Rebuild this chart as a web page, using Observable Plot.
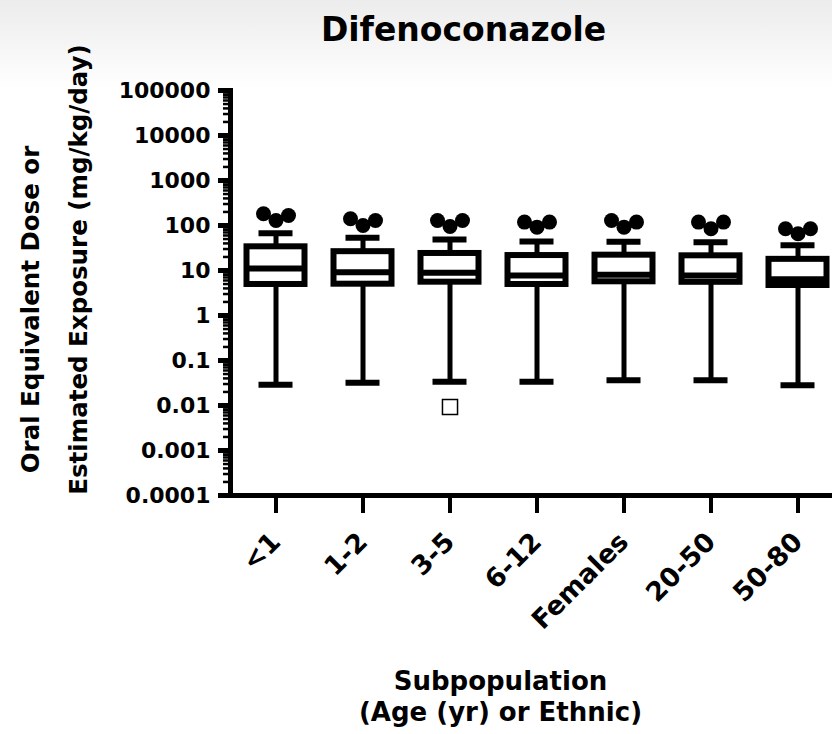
<!DOCTYPE html>
<html>
<head>
<meta charset="utf-8">
<script src="https://cdn.jsdelivr.net/npm/d3@7"></script>
<script src="https://cdn.jsdelivr.net/npm/@observablehq/plot@0.6"></script>
<style>
  html, body { margin: 0; padding: 0; }
  body { width: 832px; height: 734px; background: linear-gradient(to bottom, #ececec 0px, #ffffff 90px) no-repeat, #ffffff; }
  #chart svg { display: block; }
</style>
</head>
<body>
<div id="chart"></div>
<script>
// ---- data ----
const titleText = "Difenoconazole";
const yTitleLine1 = "Oral Equivalent Dose or";
const yTitleLine2 = "Estimated Exposure (mg/kg/day)";
const xTitleLine1 = "Subpopulation";
const xTitleLine2 = "(Age (yr) or Ethnic)";

const categories   = ["<1", "1-2", "3-5", "6-12", "Females", "20-50", "50-80"];
const whiskerLow   = [0.0288, 0.0319, 0.0337, 0.0337, 0.0365, 0.0365, 0.0282];
const q1           = [4.89, 4.96, 5.5, 4.89, 5.61, 5.47, 4.64];
const median       = [11.1, 9.12, 8.89, 7.74, 8.02, 7.74, 6.41];
const q3           = [33.6, 26.2, 23.9, 21.5, 21.9, 21.2, 17.7];
const whiskerHigh  = [67.4, 53.6, 48.9, 44.1, 43.6, 42.4, 36.5];
const outlierLeft  = [182, 141, 129, 119, 129, 119, 84.5];
const outlierMid   = [129, 100, 95, 91.8, 91.8, 84.5, 65.4];
const outlierRight = [167, 129, 129, 119, 119, 119, 84.5];

const extraCategories = ["3-5"];
const extraValues     = [0.0093];

const yTickValues = [0.0001, 0.001, 0.01, 0.1, 1, 10, 100, 1000, 10000, 100000];
const yTickLabels = ["0.0001", "0.001", "0.01", "0.1", "1", "10", "100", "1000", "10000", "100000"];

// ---- tables built from the arrays ----
const rows = categories.map((c, i) => ({
  cat: c, lo: whiskerLow[i], q1: q1[i], med: median[i], q3: q3[i], hi: whiskerHigh[i],
  oL: outlierLeft[i], oM: outlierMid[i], oR: outlierRight[i]
}));
const extras = extraCategories.map((c, i) => ({cat: c, v: extraValues[i]}));
const minorTicks = [];
for (let k = 0; k < yTickValues.length - 1; k++) {
  for (let m = 2; m <= 9; m++) minorTicks.push(m * yTickValues[k]);
}

const font = "DejaVu Sans";

const chart = Plot.plot({
  width: 832,
  height: 734,
  marginLeft: 230,
  marginRight: 0,
  marginTop: 90,
  marginBottom: 239,
  style: {fontFamily: font, fontWeight: "bold", background: "transparent", color: "black", overflow: "visible"},
  x: {type: "band", domain: categories, range: [231.5, 841.5], padding: 0},
  y: {type: "log", domain: [0.0001, 100000]},
  marks: [
    // minor y ticks
    Plot.axisY({ticks: minorTicks, tickSize: 7, strokeWidth: 2.5, tickFormat: () => "", label: null}),
    // major y ticks
    Plot.axisY({ticks: yTickValues, tickSize: 12, tickPadding: 8, strokeWidth: 5,
      tickFormat: d => yTickLabels[yTickValues.indexOf(d)], fontSize: 22, fontWeight: "bold", label: null}),
    Plot.axisX({tickSize: 18, strokeWidth: 4, tickRotate: -45, tickPadding: 24, fontSize: 26.5, fontWeight: "bold", label: null}),
    Plot.frame({anchor: "left", strokeWidth: 5}),
    Plot.frame({anchor: "bottom", strokeWidth: 5}),
    // whiskers
    Plot.ruleX(rows, {x: "cat", y1: "lo", y2: "hi", strokeWidth: 5}),
    Plot.tickY(rows, {x: "cat", y: "lo", strokeWidth: 6, insetLeft: 26.5, insetRight: 26.5}),
    Plot.tickY(rows, {x: "cat", y: "hi", strokeWidth: 6, insetLeft: 26.5, insetRight: 26.5}),
    // boxes
    Plot.barY(rows, {x: "cat", y1: "q1", y2: "q3", fill: "white", stroke: "black", strokeWidth: 6, insetLeft: 14.5, insetRight: 14.5}),
    Plot.tickY(rows, {x: "cat", y: "med", strokeWidth: 6, insetLeft: 14.5, insetRight: 14.5}),
    // outliers
    Plot.dot(rows, {x: "cat", y: "oM", r: 7.5, fill: "black", stroke: "none"}),
    Plot.dot(rows, {x: "cat", y: "oL", r: 7.5, fill: "black", stroke: "none", dx: -12.5}),
    Plot.dot(rows, {x: "cat", y: "oR", r: 7.5, fill: "black", stroke: "none", dx: 12.5}),
    // stray open marker
    Plot.dot(extras, {x: "cat", y: "v", symbol: "square", r: 8.5, fill: "white", stroke: "black", strokeWidth: 1.5}),
    // titles
    Plot.text([titleText], {text: d => d, frameAnchor: "top-left", dx: 233, dy: -60, fontSize: 33, fontWeight: "bold", textAnchor: "middle", lineAnchor: "middle", fill: "black"}),
    Plot.text([yTitleLine1], {text: d => d, frameAnchor: "top-left", dx: -199, dy: 219, rotate: -90, fontSize: 24.5, fontWeight: "bold", textAnchor: "middle", lineAnchor: "middle", fill: "black"}),
    Plot.text([yTitleLine2], {text: d => d, frameAnchor: "top-left", dx: -151, dy: 179, rotate: -90, fontSize: 24.5, fontWeight: "bold", textAnchor: "middle", lineAnchor: "middle", fill: "black"}),
    Plot.text([xTitleLine1], {text: d => d, frameAnchor: "top-left", dx: 270, dy: 591, fontSize: 26, fontWeight: "bold", textAnchor: "middle", lineAnchor: "middle", fill: "black"}),
    Plot.text([xTitleLine2], {text: d => d, frameAnchor: "top-left", dx: 270, dy: 622, fontSize: 26, fontWeight: "bold", textAnchor: "middle", lineAnchor: "middle", fill: "black"})
  ]
});
document.getElementById("chart").appendChild(chart);
</script>
</body>
</html>
